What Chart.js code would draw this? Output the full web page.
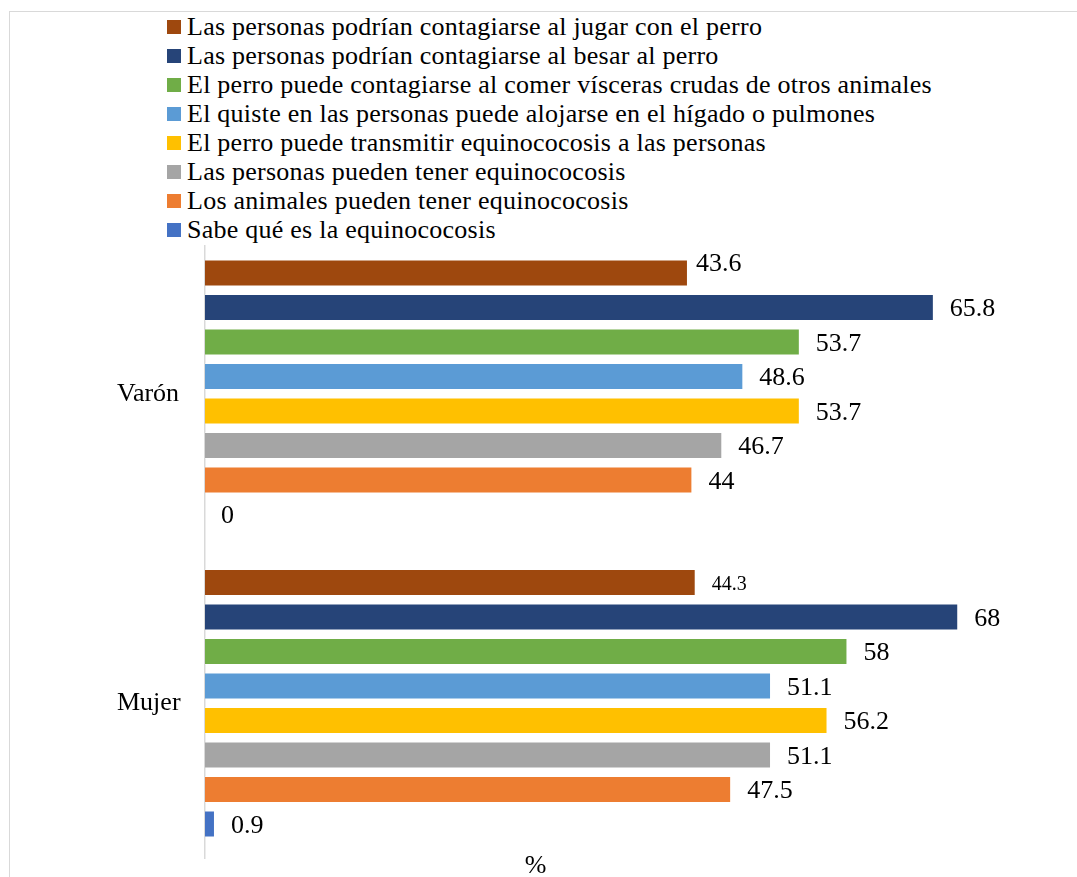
<!DOCTYPE html>
<html>
<head>
<meta charset="utf-8">
<script src="https://cdn.jsdelivr.net/npm/chart.js@4.4.1/dist/chart.umd.min.js"></script>
<style>
  html, body { margin: 0; padding: 0; background: #fff; overflow: hidden; }
  #wrap { position: absolute; left: 0; top: 0; width: 1077px; height: 877px; }
  #frame { position: absolute; left: 9px; top: 11px; width: 1200px; height: 1000px; border: 1px solid #d9d9d9; }
  #chart { position: absolute; left: 0; top: 0; }
  #legend { position: absolute; left: 167px; top: 12px; background: #fff; padding-right: 6px;
    font-family: "Liberation Serif", "Times New Roman", serif; font-size: 26px; letter-spacing: 0.25px; color: #000; }
  #legend .item { display: flex; align-items: center; height: 29.14px; white-space: nowrap; }
  #legend .box { width: 14px; height: 14px; margin-right: 6px; flex: none; }
</style>
</head>
<body>
<div id="wrap">
  <div id="frame"></div>
  <canvas id="chart" width="1077" height="877"></canvas>
  <div id="legend"></div>
</div>
<script>
const categories = ["Varón", "Mujer"];
const seriesNames = [
  "Las personas podrían contagiarse al jugar con el perro",
  "Las personas podrían contagiarse al besar al perro",
  "El perro puede contagiarse al comer vísceras crudas de otros animales",
  "El quiste en las personas puede alojarse en el hígado o pulmones",
  "El perro puede transmitir equinococosis a las personas",
  "Las personas pueden tener equinococosis",
  "Los animales pueden tener equinococosis",
  "Sabe qué es la equinococosis",
];
const varonValues = [43.6, 65.8, 53.7, 48.6, 53.7, 46.7, 44, 0];
const mujerValues = [44.3, 68, 58, 51.1, 56.2, 51.1, 47.5, 0.9];
const colors = ["#9E480E", "#264478", "#70AD47", "#5B9BD5", "#FFC000", "#A5A5A5", "#ED7D31", "#4472C4"];

const serif = "'Liberation Serif', 'Times New Roman', serif";

// small per-label tweaks seen in the original (key: dataset-index)
const labelTweaks = {
  "0-0": { dx: 8, dy: -11 },
  "0-1": { size: 20 },
};

const datasets = seriesNames.map((name, i) => ({
  label: name,
  data: [varonValues[i], mujerValues[i]],
  backgroundColor: colors[i],
  borderColor: "rgba(255,255,255,0.35)",
  borderWidth: 1,
  categoryPercentage: 0.891,
  barPercentage: 0.783,
}));

const valueLabels = {
  id: "valueLabels",
  afterDatasetsDraw(chart) {
    const ctx = chart.ctx;
    ctx.save();
    ctx.fillStyle = "#000";
    ctx.textAlign = "left";
    ctx.textBaseline = "middle";
    chart.data.datasets.forEach((ds, i) => {
      const meta = chart.getDatasetMeta(i);
      meta.data.forEach((bar, j) => {
        const t = labelTweaks[i + "-" + j] || {};
        ctx.font = (t.size || 26) + "px " + serif;
        ctx.fillText(String(ds.data[j]), bar.x + (t.dx || 16), bar.y + 2 + (t.dy || 0));
      });
    });
    // axis title
    ctx.font = "26px " + serif;
    ctx.textAlign = "center";
    ctx.textBaseline = "alphabetic";
    ctx.fillText("%", chart.width / 2 - 3, chart.chartArea.bottom + 15);
    ctx.restore();
  },
};

const chart = new Chart(document.getElementById("chart"), {
  type: "bar",
  data: { labels: categories, datasets: datasets },
  options: {
    indexAxis: "y",
    responsive: false,
    animation: false,
    layout: { padding: { top: 239, bottom: 19, right: 8, left: 117 } },
    plugins: { legend: { display: false }, tooltip: { enabled: false } },
    scales: {
      x: { display: false, min: 0, max: 78 },
      y: {
        grid: { display: false, drawTicks: false },
        border: { display: true, color: "#d9d9d9", width: 1.5 },
        ticks: { color: "#000", padding: 0, crossAlign: "far", font: { family: serif, size: 26 } },
        afterFit: (scale) => { scale.width = 88; },
      },
    },
  },
  plugins: [valueLabels],
});

const legendBox = document.getElementById("legend");
chart.data.datasets.forEach((ds) => {
  const item = document.createElement("div");
  item.className = "item";
  item.innerHTML = `<span class="box" style="background:${ds.backgroundColor}"></span><span>${ds.label}</span>`;
  legendBox.appendChild(item);
});
</script>
</body>
</html>
